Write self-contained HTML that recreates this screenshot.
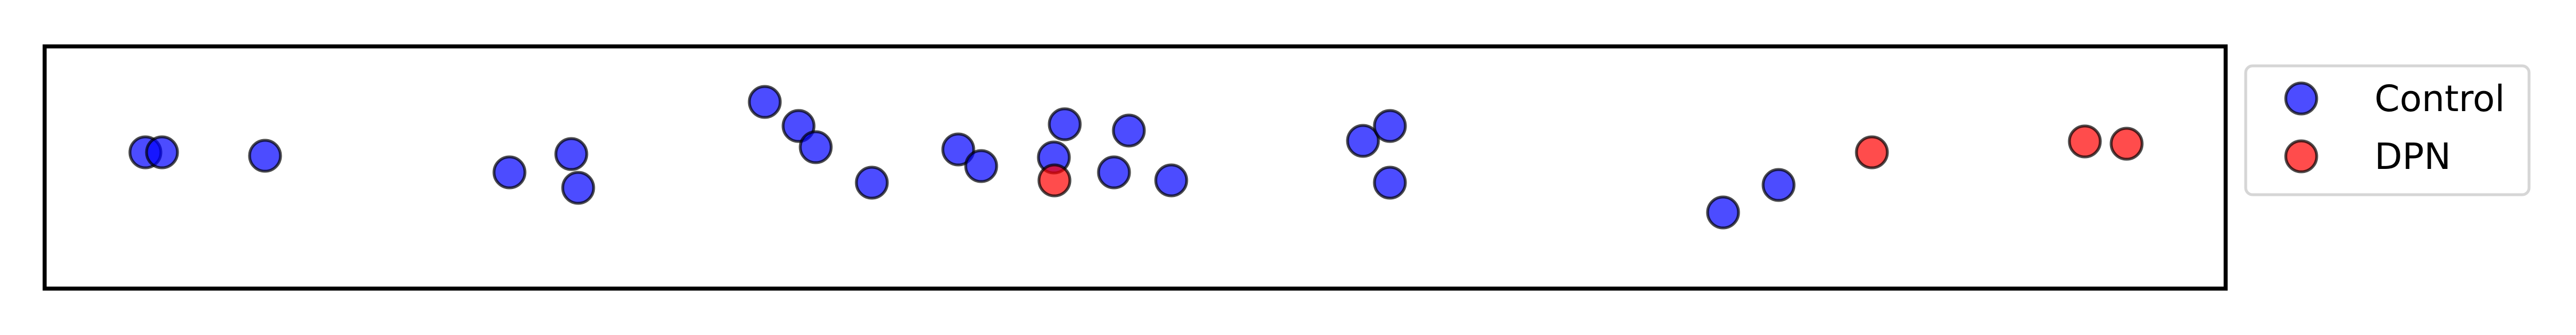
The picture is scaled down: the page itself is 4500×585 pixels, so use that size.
<!DOCTYPE html>
<html><head><meta charset="utf-8"><style>
html,body{margin:0;padding:0;background:#fff;}
svg{display:block;}
text{font-family:"DejaVu Sans","Liberation Sans",sans-serif;}
</style></head><body>
<svg id="chart" width="4500" height="585" viewBox="0 0 4500 585">
<rect x="78" y="81" width="3810" height="423" fill="#fff" stroke="#000" stroke-width="7"/>
<g id="points"></g>
<g>
<rect x="3923" y="115" width="495" height="225" rx="12" fill="#fff" stroke="#d6d6d6" stroke-width="5"/>
<g>
<ellipse cx="4020" cy="172" rx="27" ry="27" fill="rgba(0,0,255,0.7)" stroke="rgba(0,0,0,0.7)" stroke-width="5"/>
<text x="4148" y="194" font-size="63" fill="#000">Control</text>
</g>
<g>
<ellipse cx="4020" cy="273" rx="27" ry="27" fill="rgba(255,0,0,0.7)" stroke="rgba(0,0,0,0.7)" stroke-width="5"/>
<text x="4148" y="295" font-size="63" fill="#000">DPN</text>
</g>
</g>
</svg>
<script>
const controlX = [176,205,385,812,920,932,1258,1317,1347,1445,1596,1636,1782,1763,1894,1868,1968,2303,2350,2350,2932,3029];
const controlY = [238,238,232,203,235,176,326,284,247,185,243,214,287,229,276,203,189,258,284,185,133,181];
const dpnX = [1764,3192,3564,3637];
const dpnY = [189,238,257,253];
const X0=78, X1=3888, Y0=504, Y1=81;
const xDomain=[0,3810], yDomain=[0,423];
function sx(v){return X0+(v-xDomain[0])/(xDomain[1]-xDomain[0])*(X1-X0);}
function sy(v){return Y0-(v-yDomain[0])/(yDomain[1]-yDomain[0])*(Y0-Y1);}
const g=document.getElementById('points');
const NS='http://www.w3.org/2000/svg';
function draw(xs,ys,fill,name){
  for(let i=0;i<xs.length;i++){
    const c=document.createElementNS(NS,'circle');
    c.setAttribute('cx',sx(xs[i]));
    c.setAttribute('cy',sy(ys[i]));
    c.setAttribute('r',27);
    c.setAttribute('fill',fill);
    c.setAttribute('stroke','rgba(0,0,0,0.7)');
    c.setAttribute('stroke-width',5);
    
    
    g.appendChild(c);
  }
}
draw(controlX,controlY,'rgba(0,0,255,0.7)','control');
draw(dpnX,dpnY,'rgba(255,0,0,0.7)','dpn');
</script>
</body></html>
